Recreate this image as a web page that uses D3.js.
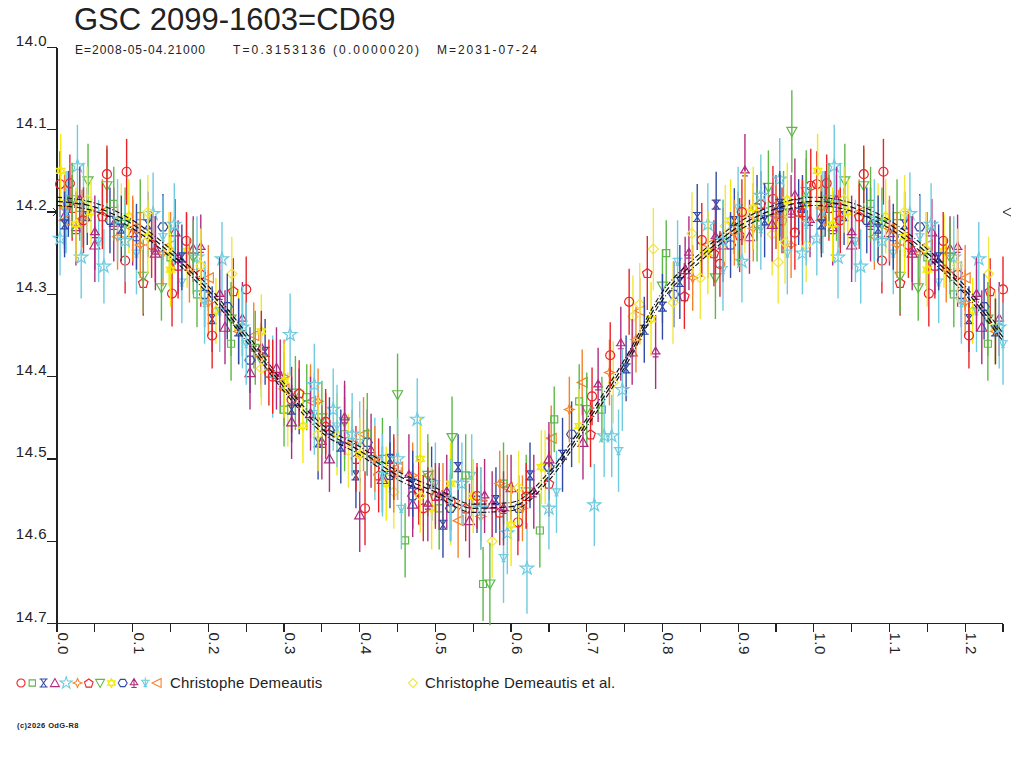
<!DOCTYPE html>
<html>
<head>
<meta charset="utf-8">
<script src="https://cdn.jsdelivr.net/npm/d3@7"></script>
<style>
  body { margin: 0; background: #fff; }
  svg { display: block; }
  text { font-family: "Liberation Sans", Arial, sans-serif; fill: #222; }
</style>
</head>
<body>
<svg id="chart" width="1024" height="768"></svg>
<script>
// ---- chart texts ----
const title = "GSC 2099-1603=CD69";
const subtitleParts = ["E=2008-05-04.21000", "T=0.3153136 (0.0000020)", "M=2031-07-24"];
const observers = ["Christophe Demeautis", "Christophe Demeautis et al."];
const copyright = "(c)2026 OdG-R8";

// ---- axes ----
const phaseDomain = [0, 1.25];
const magDomain = [14.0, 14.7];
const maxMag = 14.2;   // arrows at both ends

// ---- fitted light curve (phase 0..1) ----
const fitPhase = [0, 0.05, 0.1, 0.15, 0.2, 0.25, 0.3, 0.35, 0.4, 0.45, 0.5, 0.55, 0.6, 0.65, 0.7, 0.75, 0.8, 0.85, 0.9, 0.95, 1.0];
const fitMag = [14.187, 14.194, 14.215, 14.25, 14.295, 14.352, 14.413, 14.463, 14.49, 14.52, 14.54, 14.56, 14.558, 14.521, 14.456, 14.384, 14.302, 14.255, 14.218, 14.196, 14.187];
const fitBand = 0.005;

// ---- observations [phase, mag, err] per symbol series ----
const s0 = [[0.004,14.166,0.04],[0.017,14.165,0.035],[0.066,14.154,0.035],[0.092,14.151,0.04],[0.090,14.259,0.04],[0.152,14.299,0.04],[0.171,14.235,0.035],[0.250,14.294,0.04],[0.310,14.428,0.04],[0.407,14.560,0.045],[0.484,14.560,0.04],[0.520,14.552,0.035],[0.609,14.577,0.04],[0.707,14.424,0.035],[0.731,14.374,0.04],[0.756,14.309,0.04],[0.852,14.234,0.045],[0.876,14.263,0.04],[0.946,14.184,0.04],[0.996,14.168,0.045],
  [0.035,14.210,0.04],[0.125,14.240,0.04],[0.205,14.350,0.04],[0.285,14.400,0.045],[0.355,14.455,0.04],[0.445,14.510,0.04],[0.555,14.545,0.04],[0.905,14.200,0.04],[0.975,14.225,0.045]];
const s1 = [[0.030,14.195,0.04],[0.110,14.205,0.045],[0.185,14.300,0.04],[0.262,14.365,0.045],[0.330,14.425,0.04],[0.380,14.470,0.045],[0.430,14.500,0.05],[0.460,14.599,0.045],[0.505,14.560,0.05],[0.563,14.652,0.045],[0.590,14.530,0.05],[0.638,14.587,0.045],[0.657,14.452,0.04],[0.690,14.430,0.045],[0.720,14.440,0.04],[0.805,14.250,0.04],[0.880,14.230,0.045],[0.960,14.200,0.05],
  [0.075,14.190,0.045],[0.150,14.255,0.04],[0.230,14.360,0.045],[0.300,14.440,0.045],[0.410,14.470,0.05],[0.540,14.520,0.05],[0.925,14.215,0.045],[0.990,14.185,0.05]];
const s2 = [[0.040,14.205,0.035],[0.120,14.215,0.04],[0.205,14.330,0.04],[0.275,14.370,0.04],[0.345,14.480,0.045],[0.395,14.520,0.04],[0.440,14.500,0.04],[0.495,14.530,0.045],[0.530,14.510,0.04],[0.580,14.550,0.04],[0.625,14.520,0.04],[0.668,14.495,0.045],[0.752,14.390,0.04],[0.776,14.343,0.04],[0.800,14.315,0.04],[0.823,14.285,0.045],[0.846,14.206,0.04],[0.871,14.191,0.04],[0.895,14.211,0.04],[0.935,14.210,0.045],[0.985,14.195,0.04],
  [0.010,14.215,0.04],[0.085,14.220,0.04],[0.165,14.255,0.04],[0.240,14.345,0.04],[0.310,14.440,0.04],[0.375,14.485,0.045],[0.470,14.530,0.04],[0.510,14.580,0.04],[0.955,14.190,0.04]];
const s3 = [[0.010,14.205,0.04],[0.050,14.240,0.045],[0.100,14.225,0.04],[0.156,14.224,0.04],[0.180,14.245,0.04],[0.222,14.340,0.045],[0.290,14.390,0.05],[0.335,14.445,0.045],[0.360,14.500,0.04],[0.400,14.568,0.045],[0.470,14.555,0.04],[0.545,14.575,0.045],[0.600,14.535,0.04],[0.695,14.480,0.045],[0.760,14.370,0.04],[0.830,14.270,0.04],[0.915,14.230,0.045],[0.975,14.180,0.045],
  [0.030,14.185,0.04],[0.130,14.250,0.045],[0.255,14.395,0.045],[0.310,14.455,0.045],[0.430,14.525,0.04],[0.505,14.545,0.04],[0.575,14.555,0.04],[0.650,14.500,0.045],[0.880,14.240,0.045],[0.945,14.215,0.045]];
const s4 = [[0.004,14.232,0.045],[0.027,14.144,0.05],[0.032,14.255,0.05],[0.062,14.266,0.045],[0.127,14.202,0.05],[0.185,14.255,0.05],[0.218,14.257,0.045],[0.308,14.349,0.05],[0.365,14.440,0.05],[0.420,14.500,0.05],[0.476,14.452,0.05],[0.535,14.530,0.05],[0.595,14.590,0.05],[0.621,14.633,0.055],[0.710,14.556,0.05],[0.723,14.472,0.05],[0.733,14.472,0.05],[0.747,14.416,0.05],[0.860,14.215,0.05],[0.905,14.260,0.05],[0.955,14.160,0.05],[0.985,14.250,0.05],
  [0.090,14.235,0.05],[0.155,14.215,0.05],[0.245,14.340,0.05],[0.340,14.410,0.05],[0.390,14.470,0.05],[0.450,14.500,0.05],[0.560,14.560,0.05],[0.650,14.560,0.05],[0.880,14.235,0.05],[0.930,14.180,0.05]];
const s5 = [[0.033,14.208,0.035],[0.080,14.230,0.04],[0.140,14.250,0.04],[0.200,14.310,0.04],[0.240,14.345,0.04],[0.300,14.400,0.045],[0.345,14.430,0.04],[0.390,14.480,0.04],[0.445,14.520,0.045],[0.510,14.545,0.04],[0.560,14.570,0.04],[0.615,14.560,0.04],[0.677,14.440,0.04],[0.730,14.395,0.04],[0.765,14.355,0.04],[0.840,14.280,0.04],[0.920,14.220,0.04],[0.970,14.240,0.04],
  [0.010,14.195,0.04],[0.110,14.240,0.04],[0.175,14.270,0.04],[0.270,14.375,0.04],[0.420,14.500,0.04],[0.470,14.520,0.04],[0.585,14.530,0.04],[0.895,14.225,0.04],[0.950,14.205,0.04]];
const s6 = [[0.020,14.195,0.04],[0.114,14.286,0.04],[0.160,14.265,0.04],[0.233,14.296,0.04],[0.280,14.395,0.04],[0.355,14.460,0.04],[0.425,14.520,0.045],[0.478,14.540,0.04],[0.540,14.560,0.04],[0.585,14.565,0.04],[0.650,14.530,0.04],[0.705,14.470,0.04],[0.780,14.274,0.045],[0.829,14.302,0.04],[0.868,14.250,0.04],[0.902,14.228,0.045],[0.958,14.210,0.04],
  [0.060,14.205,0.04],[0.190,14.275,0.04],[0.320,14.420,0.04],[0.395,14.500,0.04],[0.500,14.545,0.04],[0.620,14.545,0.04],[0.930,14.190,0.04],[0.985,14.200,0.04]];
const s7 = [[0.041,14.162,0.045],[0.066,14.168,0.045],[0.114,14.278,0.045],[0.138,14.292,0.04],[0.230,14.330,0.045],[0.315,14.420,0.045],[0.380,14.455,0.045],[0.450,14.422,0.05],[0.522,14.474,0.05],[0.572,14.652,0.05],[0.620,14.540,0.045],[0.700,14.440,0.045],[0.800,14.290,0.045],[0.870,14.280,0.05],[0.940,14.170,0.045],[0.971,14.102,0.05],
  [0.020,14.185,0.045],[0.090,14.215,0.045],[0.180,14.255,0.045],[0.270,14.380,0.045],[0.350,14.450,0.045],[0.490,14.520,0.05],[0.900,14.220,0.045],[0.990,14.175,0.05]];
const s8 = [[0.005,14.150,0.045],[0.045,14.200,0.04],[0.095,14.205,0.045],[0.172,14.247,0.045],[0.210,14.320,0.04],[0.270,14.345,0.045],[0.325,14.460,0.045],[0.370,14.470,0.05],[0.435,14.530,0.045],[0.480,14.500,0.05],[0.495,14.560,0.05],[0.550,14.545,0.045],[0.600,14.580,0.05],[0.640,14.510,0.045],[0.690,14.460,0.045],[0.785,14.330,0.045],[0.890,14.210,0.05],[0.945,14.215,0.045],[0.990,14.190,0.045],
  [0.025,14.215,0.045],[0.120,14.230,0.045],[0.150,14.270,0.045],[0.240,14.340,0.045],[0.300,14.405,0.045],[0.400,14.495,0.045],[0.520,14.530,0.05],[0.860,14.250,0.05],[0.920,14.195,0.05],[0.965,14.185,0.045]];
const s9 = [[0.015,14.190,0.04],[0.140,14.218,0.04],[0.195,14.300,0.04],[0.255,14.380,0.04],[0.320,14.430,0.04],[0.410,14.480,0.04],[0.470,14.545,0.04],[0.555,14.550,0.04],[0.610,14.560,0.04],[0.680,14.470,0.04],[0.815,14.300,0.04],[0.925,14.195,0.04],[0.980,14.200,0.04],
  [0.070,14.210,0.04],[0.105,14.230,0.04],[0.225,14.315,0.04],[0.360,14.465,0.04],[0.440,14.520,0.04],[0.520,14.560,0.04],[0.650,14.510,0.04],[0.890,14.240,0.04],[0.955,14.195,0.04]];
const s10 = [[0.025,14.220,0.045],[0.075,14.215,0.045],[0.130,14.245,0.04],[0.190,14.243,0.04],[0.245,14.330,0.045],[0.295,14.400,0.045],[0.350,14.480,0.045],[0.415,14.490,0.045],[0.465,14.520,0.05],[0.515,14.540,0.045],[0.565,14.545,0.045],[0.630,14.540,0.045],[0.715,14.410,0.045],[0.745,14.360,0.045],[0.791,14.370,0.045],[0.835,14.250,0.045],[0.909,14.150,0.045],[0.950,14.200,0.045],[0.995,14.210,0.045],
  [0.050,14.225,0.045],[0.160,14.255,0.045],[0.215,14.300,0.045],[0.270,14.365,0.045],[0.380,14.450,0.045],[0.490,14.555,0.045],[0.590,14.560,0.045],[0.870,14.230,0.045],[0.970,14.200,0.045]];
const s11 = [[0.012,14.200,0.05],[0.055,14.235,0.05],[0.105,14.250,0.05],[0.165,14.285,0.05],[0.215,14.320,0.05],[0.285,14.400,0.05],[0.340,14.445,0.05],[0.400,14.480,0.05],[0.455,14.560,0.05],[0.500,14.530,0.05],[0.548,14.520,0.05],[0.590,14.620,0.055],[0.660,14.540,0.05],[0.742,14.490,0.05],[0.820,14.260,0.05],[0.880,14.270,0.05],[0.930,14.220,0.05],[0.965,14.250,0.05],
  [0.035,14.190,0.05],[0.080,14.210,0.05],[0.140,14.230,0.05],[0.195,14.310,0.05],[0.250,14.360,0.05],[0.370,14.460,0.05],[0.430,14.520,0.05],[0.520,14.550,0.05],[0.900,14.195,0.05],[0.990,14.215,0.05]];
const s12 = [[0.060,14.200,0.04],[0.150,14.240,0.04],[0.260,14.350,0.04],[0.335,14.430,0.045],[0.405,14.470,0.045],[0.490,14.520,0.04],[0.530,14.575,0.045],[0.595,14.535,0.04],[0.653,14.475,0.04],[0.694,14.407,0.04],[0.770,14.320,0.04],[0.860,14.240,0.04],[0.985,14.205,0.04],
  [0.010,14.210,0.04],[0.100,14.220,0.04],[0.200,14.280,0.04],[0.300,14.415,0.045],[0.450,14.510,0.04],[0.560,14.555,0.045],[0.920,14.205,0.04]];
const s13 = [[0.010,14.190,0.04],[0.085,14.210,0.045],[0.148,14.245,0.045],[0.231,14.275,0.045],[0.305,14.440,0.045],[0.385,14.490,0.045],[0.445,14.540,0.045],[0.520,14.560,0.045],[0.575,14.600,0.045],[0.645,14.510,0.045],[0.735,14.407,0.05],[0.761,14.327,0.05],[0.770,14.312,0.05],[0.788,14.245,0.05],[0.814,14.310,0.05],[0.839,14.226,0.05],[0.850,14.280,0.05],[0.883,14.217,0.05],[0.909,14.200,0.05],[0.945,14.227,0.05],[0.953,14.261,0.05],[0.962,14.237,0.05],[0.990,14.240,0.045],
  [0.040,14.185,0.04],[0.120,14.200,0.045],[0.190,14.265,0.045],[0.270,14.390,0.045],[0.345,14.470,0.045],[0.480,14.545,0.045],[0.610,14.535,0.045]];

const seriesData = [s0, s1, s2, s3, s4, s5, s6, s7, s8, s9, s10, s11, s12, s13];
const seriesColor = ["#ec2227", "#5cb947", "#3149a6", "#b02b80", "#6ecbe0", "#f5822a", "#ec2227", "#5cb947", "#f4ea00", "#3149a6", "#b02b80", "#6ecbe0", "#f5822a", "#f2e640"];

// symbol outlines, centred on 0,0
const pentagon = d3.range(5).map(i => {
  const a = -Math.PI / 2 + i * 2 * Math.PI / 5;
  return [5 * Math.cos(a), 5 * Math.sin(a) + 0.5];
});
const symbolPaths = [
  d3.symbol(d3.symbolCircle, 64)(),
  "M-3.5,-3.5h7v7h-7z",
  "M-4.5,-4.5H4.5M-4.5,4.5H4.5M-3,-4.5L3,4.5M3,-4.5L-3,4.5",
  "M0,-5L5,4H-5Z",
  d3.symbol(d3.symbolStar, 55)(),
  "M0,-5L1.5,-1.5L5,0L1.5,1.5L0,5L-1.5,1.5L-5,0L-1.5,-1.5Z",
  "M" + pentagon.join("L") + "Z",
  "M-5,-4H5L0,5Z",
  "M0,-5L4.3,2.5H-4.3ZM0,5L4.3,-2.5H-4.3Z",
  "M-5,0L-2.5,-4H2.5L5,0L2.5,4H-2.5Z",
  "M0,-5L4,2H-4ZM-5,2H5M0,-5V5M-3,5H3",
  "M-5,-3H5M-3.5,-3L0,4L3.5,-3M0,-6V4M-2,4H2",
  "M5,-5L-5,0L5,5Z",
  "M0,-5L5,0L0,5L-5,0Z"
];

// ---- layout ----
const svg = d3.select("#chart");
const x = d3.scaleLinear().domain(phaseDomain).range([57, 1003]);
const y = d3.scaleLinear().domain(magDomain).range([47.5, 623.5]);

// title
svg.append("text").attr("x", 74).attr("y", 30).attr("font-size", 31).text(title);
const subX = [75, 233, 437];
const subW = [130, 186, 100];
subtitleParts.forEach((t, i) => {
  svg.append("text").attr("x", subX[i]).attr("y", 54).attr("font-size", 12)
    .attr("textLength", subW[i]).attr("lengthAdjust", "spacing").text(t);
});

// axes
const axisG = svg.append("g").attr("stroke", "#222").attr("stroke-width", 1.2).attr("shape-rendering", "crispEdges");
axisG.append("line").attr("x1", x(0)).attr("x2", x(0)).attr("y1", y(magDomain[0])).attr("y2", y(magDomain[1]));
axisG.append("line").attr("x1", x(0) - 10).attr("x2", x(phaseDomain[1])).attr("y1", y(magDomain[1])).attr("y2", y(magDomain[1]));

const yTicks = y.ticks(7);
axisG.selectAll(".ytick").data(yTicks).join("line").attr("class", "ytick")
  .attr("x1", x(0) - 10).attr("x2", x(0)).attr("y1", d => y(d)).attr("y2", d => y(d));
svg.selectAll(".ylab").data(yTicks).join("text").attr("class", "ylab")
  .attr("x", x(0) - 10).attr("y", d => y(d) - 2).attr("text-anchor", "end").attr("font-size", 15)
  .attr("letter-spacing", 0.5).text(d => d.toFixed(1));

const xTicks = x.ticks(25);
axisG.selectAll(".xtick").data(xTicks).join("line").attr("class", "xtick")
  .attr("x1", d => x(d)).attr("x2", d => x(d)).attr("y1", y(magDomain[1])).attr("y2", y(magDomain[1]) + 8);
const xLabels = x.ticks(12);
svg.selectAll(".xlab").data(xLabels).join("text").attr("class", "xlab")
  .attr("transform", d => `translate(${x(d) + 1},${y(magDomain[1]) + 9}) rotate(90)`)
  .attr("font-size", 15).attr("letter-spacing", 0.5).text(d => d.toFixed(1));

// max-brightness arrows
svg.append("path").attr("fill", "none").attr("stroke", "#222")
  .attr("d", `M${x(0) - 9},${y(maxMag)}H${x(0)}M${x(0) - 4},${y(maxMag) - 4}L${x(0)},${y(maxMag)}L${x(0) - 4},${y(maxMag) + 4}`);
svg.append("path").attr("fill", "none").attr("stroke", "#222")
  .attr("d", `M${x(phaseDomain[1]) + 8},${y(maxMag) - 4}L${x(phaseDomain[1])},${y(maxMag)}L${x(phaseDomain[1]) + 8},${y(maxMag) + 4}`);

// observations (phases below 0.25 repeated after 1.0)
const points = [];
seriesData.forEach((s, k) => {
  s.forEach(([p, m, e], i) => {
    points.push({ p, m, e, k, i });
    if (p + 1 <= phaseDomain[1]) points.push({ p: p + 1, m, e, k, i });
  });
});
points.sort((a, b) => a.i - b.i || a.k - b.k);

const obsG = svg.append("g");
const pt = obsG.selectAll("g").data(points).join("g")
  .attr("transform", d => `translate(${x(d.p)},${y(d.m)})`);
pt.append("line")
  .attr("y1", d => y(d.m - d.e) - y(d.m)).attr("y2", d => y(d.m + d.e) - y(d.m))
  .attr("stroke", d => seriesColor[d.k]).attr("stroke-width", 1.4);
pt.append("path").attr("d", d => symbolPaths[d.k])
  .attr("fill", "none").attr("stroke", d => seriesColor[d.k]).attr("stroke-width", 1.2);

// fitted curve + band
const fitPts = fitPhase.map((p, i) => [p, fitMag[i]])
  .concat(fitPhase.filter(p => p > 0 && p + 1 <= phaseDomain[1]).map(p => [p + 1, fitMag[fitPhase.indexOf(p)]]));
const fitLine = off => d3.line().x(d => x(d[0])).y(d => y(d[1] + off)).curve(d3.curveMonotoneX)(fitPts);
svg.append("path").attr("d", fitLine(0)).attr("fill", "none").attr("stroke", "#111").attr("stroke-width", 1.2).attr("stroke-dasharray", "6,3");
[-fitBand, fitBand].forEach(off => {
  svg.append("path").attr("d", fitLine(off)).attr("fill", "none").attr("stroke", "#111").attr("stroke-width", 1.1).attr("stroke-dasharray", "5,2,1,2");
});

// legend
const legY = 683;
const legSym = svg.append("g");
d3.range(13).forEach(k => {
  legSym.append("path").attr("transform", `translate(${21 + k * 11.3},${legY}) scale(0.9)`)
    .attr("d", symbolPaths[k]).attr("fill", "none").attr("stroke", seriesColor[k]).attr("stroke-width", 1.2);
});
svg.append("text").attr("x", 170).attr("y", legY + 5).attr("font-size", 15).attr("letter-spacing", 0.2).text(observers[0]);
legSym.append("path").attr("transform", `translate(413,${legY}) scale(0.9)`)
  .attr("d", symbolPaths[13]).attr("fill", "none").attr("stroke", seriesColor[13]).attr("stroke-width", 1.2);
svg.append("text").attr("x", 425).attr("y", legY + 5).attr("font-size", 15).attr("letter-spacing", 0.2).text(observers[1]);

svg.append("text").attr("x", 17).attr("y", 728).attr("font-size", 7.5).attr("font-weight", "bold")
  .attr("letter-spacing", 0.4).text(copyright);
</script>
</body>
</html>
